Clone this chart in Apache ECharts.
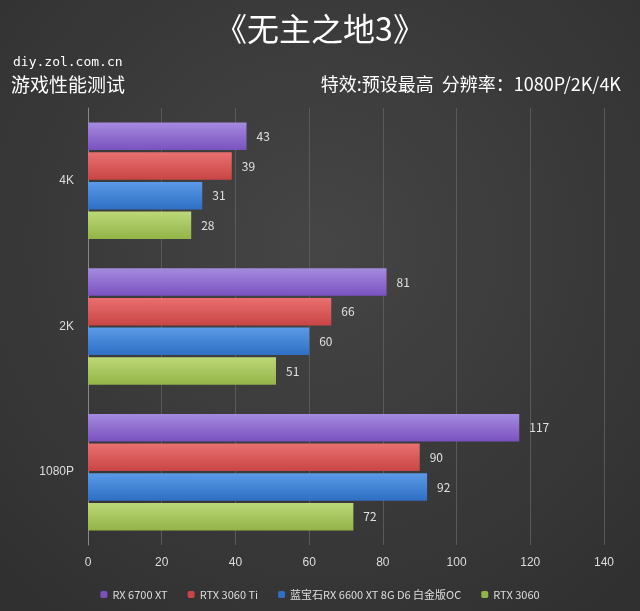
<!DOCTYPE html>
<html><head><meta charset="utf-8">
<script src="https://cdn.jsdelivr.net/npm/echarts@6/dist/echarts.min.js"></script>
<style>html,body{margin:0;background:#383838}#main{width:640px;height:611px}</style>
</head><body><div id="main"></div>
<script>
var categories = ['4K', '2K', '1080P'];
var names = ['RX 6700 XT', 'RTX 3060 Ti', '蓝宝石RX 6600 XT 8G D6 白金版OC', 'RTX 3060'];
var rx6700 = [43, 81, 117];
var rtx3060ti = [39, 66, 90];
var rx6600 = [31, 60, 92];
var rtx3060 = [28, 51, 72];
var colors = [['#a58be0', '#7a52bf'], ['#ea7070', '#c94545'], ['#5a9ae6', '#2f6fc4'], ['#bcd878', '#93b448']];

var values = [rx6700, rtx3060ti, rx6600, rtx3060];
var font = '"Noto Sans CJK SC", sans-serif';
var myChart = echarts.init(document.getElementById('main'));
var series = names.map(function (n, i) {
    return {
        name: n, type: 'bar', data: values[i],
        barGap: '8%', barCategoryGap: '20%',
        itemStyle: {
            color: new echarts.graphic.LinearGradient(0, 0, 0, 1, [
                {offset: 0, color: colors[i][0]}, {offset: 1, color: colors[i][1]}
            ])
        },
        label: {show: true, position: 'right', color: '#e0e0e0', fontSize: 12, distance: 10, fontFamily: font}
    };
});
var option = {
    backgroundColor: new echarts.graphic.RadialGradient(0.5, 0.4, 0.8, [
        {offset: 0, color: '#454545'}, {offset: 1, color: '#2f2f2f'}
    ]),
    title: [
        {text: '《无主之地3》', left: 'center', top: 8, textStyle: {color: '#fff', fontSize: 32, fontWeight: 'normal', fontFamily: font}},
        {text: 'diy.zol.com.cn', left: 8, top: 51, textStyle: {color: '#fff', fontSize: 13, fontWeight: 'normal', fontFamily: 'DejaVu Sans Mono'}},
        {text: '游戏性能测试', left: 6, top: 70, textStyle: {color: '#fff', fontSize: 19, fontWeight: 'normal', fontFamily: font}},
        {text: '特效:预设最高  分辨率：1080P/2K/4K', right: 14, top: 70, textStyle: {color: '#fff', fontSize: 18, fontWeight: 'normal', fontFamily: font}}
    ],
    legend: {
        bottom: 6, left: 'center', itemWidth: 7, itemHeight: 7, itemGap: 20,
        textStyle: {color: '#ddd', fontSize: 11, fontFamily: font},
        data: names.map(function (n, i) { return {name: n, itemStyle: {color: colors[i][1]}}; })
    },
    grid: {left: 88, right: 36, top: 108, bottom: 66},
    xAxis: {
        type: 'value', min: 0, max: 140, interval: 20,
        axisLabel: {color: '#ddd', fontSize: 12, margin: 12},
        splitLine: {lineStyle: {color: '#5a5a5a'}},
        axisLine: {show: false}, axisTick: {show: false}
    },
    yAxis: {
        type: 'category', data: categories, inverse: true,
        axisLabel: {color: '#ddd', fontSize: 12, margin: 14},
        axisLine: {lineStyle: {color: '#888'}}, axisTick: {show: false}
    },
    series: series
};
myChart.setOption(option);
</script></body></html>
